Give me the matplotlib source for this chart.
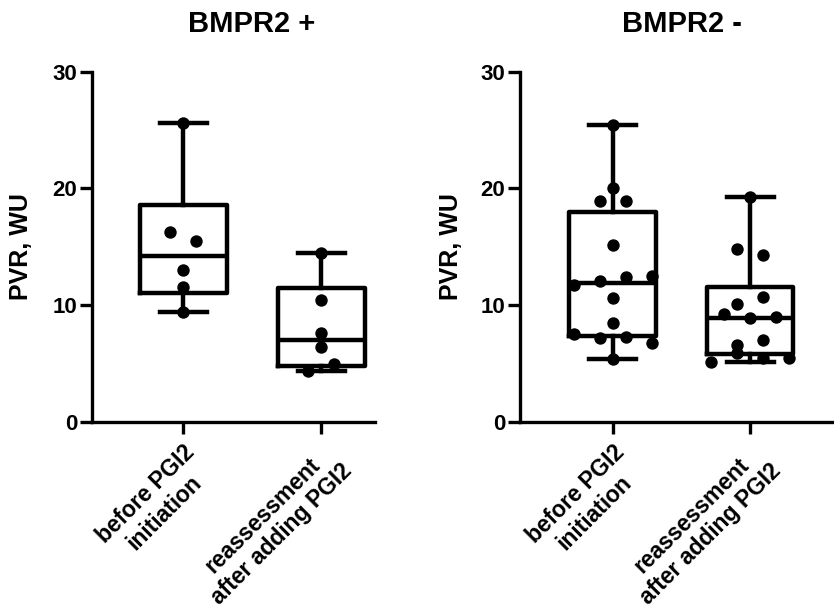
import numpy as np
import matplotlib
matplotlib.use("Agg")
import matplotlib.pyplot as plt

plt.rcParams['font.family'] = ['Liberation Sans', 'DejaVu Sans']

# PVR (WU)
pos_before = [25.6, 16.3, 15.5, 13.0, 11.6, 9.4]
pos_after = [14.5, 10.45, 7.65, 6.45, 4.4, 4.97]
neg_before = [25.4, 20.0, 18.9, 18.9, 15.2, 11.77, 12.1, 12.4, 12.5, 10.6, 8.5,
              7.5, 7.2, 7.3, 6.8, 5.4]
neg_after = [19.3, 14.8, 14.3, 10.1, 10.7, 9.25, 8.87, 9.0, 6.6, 7.0, 5.15, 5.9,
             5.5, 5.5]

group_labels = ["before PGI2\ninitiation", "reassessment\nafter adding PGI2"]
titles = ["BMPR2 +", "BMPR2 -"]
y_ticks = [0, 10, 20, 30]


def box_stats(vals):
    # GraphPad style: quartiles with (n+1)p rule, whiskers min to max
    v = np.asarray(vals)
    q1, med, q3 = np.percentile(v, [25, 50, 75], method='weibull')
    return dict(med=med, q1=q1, q3=q3, whislo=v.min(), whishi=v.max(), fliers=[])


def row_offsets(vals, thresh=1.0, step=0.19):
    # put points of similar value side by side, centred on the column
    vals = np.asarray(vals)
    order = np.argsort(vals, kind='stable')
    offs = np.zeros(len(vals))
    rows, cur = [], [order[0]]
    for i in order[1:]:
        if vals[i] - vals[cur[0]] < thresh:
            cur.append(i)
        else:
            rows.append(cur)
            cur = [i]
    rows.append(cur)
    for r in rows:
        r = sorted(r)
        n = len(r)
        for k, i in enumerate(r):
            offs[i] = (k - (n - 1) / 2) * step
    return offs


fig = plt.figure(figsize=(8.34, 6.10), dpi=100)
ax1 = fig.add_axes([0.1103, 0.3082, 0.3393, 0.5743])
ax2 = fig.add_axes([0.6235, 0.3082, 0.3765, 0.5743])

panels = [(ax1, [pos_before, pos_after], (0.34, 2.39), -0.207),
          (ax2, [neg_before, neg_after], (0.325, 2.61), -0.183)]

lw = 3.2
for (ax, groups, xl, ylab_x), title in zip(panels, titles):
    stats = [box_stats(g) for g in groups]
    ax.bxp(stats, positions=[1, 2], widths=0.63, showfliers=False,
           boxprops=dict(color='black', linewidth=lw),
           medianprops=dict(color='black', linewidth=lw),
           whiskerprops=dict(color='black', linewidth=lw),
           capprops=dict(color='black', linewidth=lw),
           capwidths=0.34)
    for k, g in enumerate(groups):
        xs = k + 1 + row_offsets(g)
        ax.scatter(xs, g, s=80, color='black', zorder=5, clip_on=False,
                   linewidths=0)

    ax.set_xlim(*xl)
    ax.set_ylim(0, 30)
    ax.set_yticks(y_ticks)
    ax.set_xticks([1, 2])
    ax.set_xticklabels(group_labels, rotation=45, ha='right',
                       rotation_mode='anchor', fontsize=16.5,
                       fontweight='bold', multialignment='center')
    for t in ax.get_yticklabels():
        t.set_fontsize(16)
        t.set_fontweight('bold')
    ax.tick_params(axis='both', length=8.5, width=2.4, pad=2)
    ax.tick_params(axis='x', pad=5)
    ax.spines['top'].set_visible(False)
    ax.spines['right'].set_visible(False)
    ax.spines['left'].set_linewidth(2.4)
    ax.spines['bottom'].set_linewidth(2.4)
    ax.set_ylabel("PVR, WU", fontsize=18, fontweight='bold')
    ax.yaxis.set_label_coords(ylab_x, 0.5)
    ax.text(1.5, 1.137, title, transform=ax.get_xaxis_transform(),
            ha='center', va='center', fontsize=21, fontweight='bold')

fig.savefig("out.png", dpi=100, facecolor='white')
